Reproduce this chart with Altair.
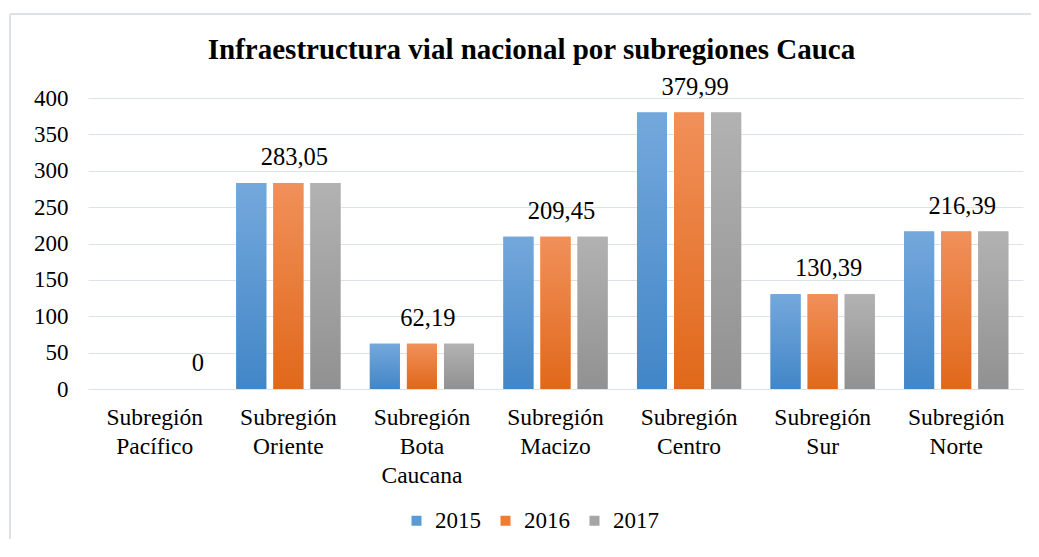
import altair as alt
import pandas as pd

categories = ["Subregión Pacífico", "Subregión Oriente", "Subregión Bota Caucana",
              "Subregión Macizo", "Subregión Centro", "Subregión Sur", "Subregión Norte"]
years = ["2015", "2016", "2017"]
v2015 = [0, 283.05, 62.19, 209.45, 379.99, 130.39, 216.39]
v2016 = [0, 283.05, 62.19, 209.45, 379.99, 130.39, 216.39]
v2017 = [0, 283.05, 62.19, 209.45, 379.99, 130.39, 216.39]
label_text = ["0", "283,05", "62,19", "209,45", "379,99", "130,39", "216,39"]
label_series = ["2017", "2016", "2016", "2016", "2016", "2016", "2016"]
y_ticks = [0, 50, 100, 150, 200, 250, 300, 350, 400]

solid = ["#5B9BD5", "#ED7D31", "#A5A5A5"]
grad_top = ["#74A8DC", "#F1905A", "#B2B2B2"]
grad_bot = ["#4286C7", "#E0681A", "#919191"]

rows = []
for series, vals in zip(years, [v2015, v2016, v2017]):
    for c, v in zip(categories, vals):
        rows.append({"cat": c, "year": series, "value": v})
df = pd.DataFrame(rows)

lab = pd.DataFrame({"cat": categories, "year": label_series, "value": v2017, "text": label_text})

FONT = "Liberation Serif"
W, H = 935, 291

x = alt.X("cat:N", sort=categories, title=None,
          scale=alt.Scale(paddingInner=0.22, paddingOuter=0.11),
          axis=alt.Axis(labelAngle=0, labelFont=FONT, labelFontSize=23.5, labelColor="#000000",
                        labelExpr="split(datum.label, ' ')", labelLineHeight=29,
                        labelPadding=16, domain=False, ticks=False, labelBaseline="top"))
xo = alt.XOffset("year:N", sort=years, scale=alt.Scale(paddingInner=0.19, paddingOuter=0))
y = alt.Y("value:Q", title=None,
          scale=alt.Scale(domain=[0, 400]),
          axis=alt.Axis(values=y_ticks, labelFont=FONT, labelFontSize=23,
                        labelColor="#000000", labelPadding=20, domain=False, ticks=False,
                        labelOverlap=False,
                        grid=True, gridColor="#DDE2E8", gridWidth=1))

base = alt.Chart(df).mark_bar().encode(
    x=x, xOffset=xo, y=y,
    color=alt.Color("year:N", sort=years, scale=alt.Scale(domain=years, range=solid),
                    legend=alt.Legend(title=None, orient="none", direction="horizontal",
                                      legendX=317, legendY=411, symbolType="square",
                                      symbolSize=100, symbolStrokeWidth=0,
                                      labelFont=FONT, labelFontSize=23, labelColor="#000000",
                                      columnPadding=13, labelOffset=7))
)

layers = [base]
for i, yr in enumerate(years):
    g = alt.LinearGradient(gradient="linear",
                           stops=[alt.GradientStop(color=grad_top[i], offset=0),
                                  alt.GradientStop(color=grad_bot[i], offset=1)],
                           x1=0, x2=0, y1=0, y2=1)
    layers.append(
        alt.Chart(df).transform_filter(alt.datum.year == yr)
        .mark_bar(color=g).encode(x=x, xOffset=xo, y=y)
    )

labels = alt.Chart(lab).mark_text(font=FONT, fontSize=24.5, color="#000000", baseline="middle",
                                  dy=-25, dx=6).encode(
    x=x, xOffset=xo, y=y, text="text:N")

one = alt.Data(values=[{"a": 1}])
top_line = alt.Chart(one).mark_rule(color="#DDE2E8", strokeWidth=2).encode(
    x=alt.value(-78), x2=alt.value(W + 300), y=alt.value(-84))
left_line = alt.Chart(one).mark_rule(color="#DDE2E8", strokeWidth=2).encode(
    x=alt.value(-78), y=alt.value(-84), y2=alt.value(H + 300))

chart = alt.layer(*layers, labels, top_line, left_line).properties(
    width=W, height=H,
    title=alt.TitleParams("Infraestructura vial nacional por subregiones Cauca",
                          font=FONT, fontSize=29, fontWeight="bold", color="#000000",
                          anchor="middle", frame="group", offset=-52, dx=-24),
    autosize=alt.AutoSizeParams(type="none"),
    padding={"left": 80, "top": 90, "right": 8, "bottom": 150},
).configure(background="#FFFFFF", font=FONT).configure_view(stroke=None)

chart.save("out.html", embed_options={"renderer": "svg", "actions": False})
